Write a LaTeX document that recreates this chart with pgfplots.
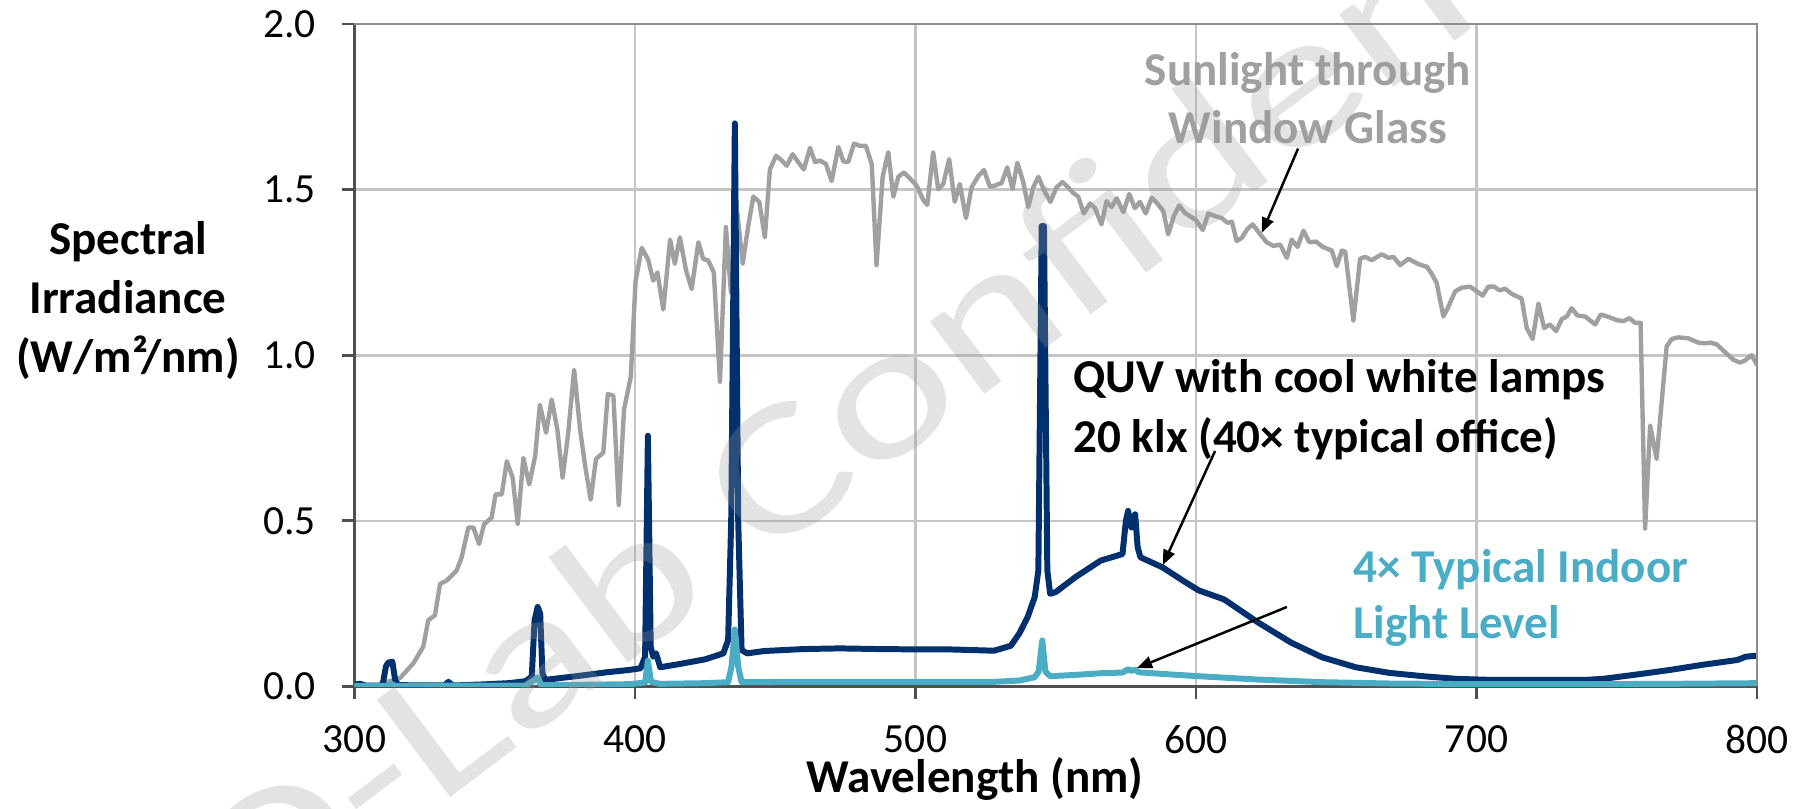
\documentclass[border=0pt]{standalone}
\usepackage{fontspec}
\setmainfont{Carlito}
\usepackage{pgfplots}
\pgfplotsset{compat=1.18}
\usetikzlibrary{arrows.meta}
\definecolor{sungray}{RGB}{160,160,160}
\definecolor{quvnavy}{RGB}{0,48,110}
\definecolor{indoor}{RGB}{75,172,198}
\definecolor{gridgray}{RGB}{197,197,197}
\definecolor{axisgray}{RGB}{80,80,80}
\definecolor{wmgray}{RGB}{153,153,153}

\pgfplotstableread{
x y
300 0.001
308 0.002
310 0.01
316.2 0.025
321 0.07
324.5 0.12
326.3 0.20
328.7 0.215
330.5 0.31
332.9 0.32
336.4 0.35
338.2 0.39
340.6 0.48
342.4 0.48
344.4 0.43
346.2 0.49
348.9 0.51
350.3 0.58
352.5 0.58
354.3 0.68
356.4 0.63
358.2 0.49
360.2 0.69
362.3 0.61
364.4 0.695
366.1 0.85
368.3 0.766
370.3 0.866
372.3 0.777
374.2 0.63
376.2 0.766
378.3 0.956
380.4 0.777
382.2 0.668
384.2 0.564
386.1 0.687
388.7 0.706
390.3 0.883
392.3 0.878
394.2 0.548
396.1 0.837
398.5 0.935
400.2 1.223
402.4 1.324
404.7 1.289
406.5 1.225
408 1.25
410.1 1.138
412.5 1.349
414.2 1.276
416 1.356
418.2 1.256
420.2 1.2
422.6 1.341
424.3 1.291
426.1 1.286
428.1 1.25
430.3 0.92
432.4 1.387
434.2 1.19
436.5 1.428
438.4 1.276
440.4 1.392
442.2 1.479
444.3 1.463
446.3 1.356
448.1 1.561
450.3 1.602
452.3 1.588
454.1 1.572
456.2 1.607
458.2 1.583
460.2 1.561
462.4 1.626
464.2 1.583
465.9 1.588
468.1 1.577
470.1 1.526
472.5 1.629
474.3 1.585
476.0 1.583
478.1 1.639
480.2 1.632
482.3 1.632
484.4 1.577
486.1 1.272
488.3 1.539
490.3 1.613
492.1 1.479
493.9 1.539
495.9 1.552
498 1.534
500.4 1.512
502.8 1.468
504.2 1.454
506.3 1.613
508.1 1.501
509.9 1.517
512.0 1.592
514.0 1.463
515.8 1.517
518 1.414
520 1.507
522.4 1.541
524.4 1.559
526.5 1.509
528.3 1.512
530.7 1.52
532.7 1.567
534.6 1.501
536.3 1.581
538.4 1.523
540.2 1.447
542 1.507
543.8 1.539
546.1 1.493
548.1 1.463
550.3 1.507
552.4 1.523
554.4 1.507
556.2 1.49
558 1.479
560 1.428
562.2 1.458
564 1.444
566.3 1.395
568.1 1.465
569.9 1.447
571.7 1.474
574.1 1.432
576.2 1.487
578.2 1.444
580 1.463
582.1 1.428
584.2 1.476
586.2 1.458
588.3 1.436
590.1 1.365
592.1 1.42
594 1.452
596 1.43
597.8 1.42
600 1.408
602.4 1.378
604.4 1.428
606.8 1.42
609.2 1.414
611.2 1.4
612.8 1.403
614.5 1.345
616.3 1.354
618.3 1.381
620.2 1.395
622.9 1.365
625.2 1.341
627.6 1.33
630 1.334
632.4 1.294
634.1 1.349
636.2 1.327
638.3 1.376
640.4 1.341
642.8 1.343
645.2 1.327
648.4 1.316
650.2 1.269
652 1.316
653.2 1.313
656.1 1.104
658.5 1.291
660.3 1.297
662.7 1.287
666.2 1.305
668.6 1.294
670.4 1.297
672.8 1.272
675.7 1.291
679.3 1.275
682.3 1.267
684.1 1.245
685.8 1.218
688.2 1.117
690 1.147
692.4 1.193
694.8 1.204
697.7 1.207
700.1 1.193
702.2 1.18
704.2 1.207
706.3 1.207
708.2 1.196
710.2 1.201
712.6 1.185
716.1 1.171
717.9 1.082
720.0 1.049
722.1 1.156
724.1 1.082
726.2 1.093
728.4 1.073
730.4 1.109
732.2 1.117
733.9 1.142
736 1.12
738.7 1.117
742.3 1.093
744.3 1.123
747.6 1.114
750 1.106
752.4 1.103
754.5 1.112
756.5 1.098
758.5 1.098
760.1 0.477
761.9 0.788
764.2 0.687
767.8 1.027
769.6 1.049
772 1.054
775.5 1.051
779.1 1.038
781.5 1.036
783.5 1.038
785.6 1.033
788 1.014
791.6 0.986
794 0.978
795.7 0.984
798.1 1.0
800 0.971
}\sunlight

\pgfplotstableread{
x y
300 0.006
302 0.008
304 0.003
310 0.003
311.2 0.06
312 0.072
313.5 0.075
314.5 0.02
315.5 0.004
332 0.003
333.5 0.014
335 0.003
345 0.006
355 0.010
361 0.016
363.2 0.03
364.2 0.20
365.3 0.24
366.2 0.22
367 0.04
368 0.020
370 0.022
380 0.032
390 0.043
398 0.050
402 0.055
403.6 0.09
404.6 0.757
405.6 0.12
406.5 0.09
407.5 0.10
409 0.058
416 0.068
425 0.082
431.5 0.100
433.2 0.14
434.3 0.50
435.6 1.70
436.8 0.50
438 0.11
440 0.100
446 0.107
460 0.113
473 0.115
487 0.113
500 0.112
512 0.112
520 0.110
528 0.108
534 0.123
537 0.16
540 0.21
542.5 0.27
543.8 0.35
545 1.39
545.8 1.39
547 0.35
548 0.28
550 0.285
557 0.33
566 0.38
573.8 0.40
575.0 0.50
575.8 0.53
577.0 0.48
578.3 0.52
579.2 0.42
580.2 0.39
588 0.36
596 0.316
601 0.29
610 0.263
622 0.194
634 0.132
645 0.088
657 0.058
669 0.041
681 0.031
693 0.023
705 0.020
720 0.020
739 0.020
745 0.023
757 0.036
769 0.050
781 0.066
793 0.080
796 0.090
800 0.093
}\quv

\pgfplotstableread{
x y
300 0.002
311.5 0.002
313 0.008
314.5 0.002
361 0.003
364.2 0.020
365.3 0.027
366.5 0.004
380 0.005
398 0.007
403.6 0.012
404.6 0.078
405.7 0.014
409 0.008
425 0.010
433.2 0.013
434.4 0.06
435.6 0.172
436.8 0.06
438 0.013
460 0.014
487 0.014
512 0.014
528 0.014
537 0.018
542.5 0.028
543.9 0.045
545.2 0.139
546.3 0.045
548 0.031
557 0.035
566 0.040
573.8 0.042
575.8 0.052
577 0.047
578.3 0.051
579.5 0.043
588 0.038
601 0.031
622 0.021
645 0.013
669 0.009
700 0.007
740 0.007
769 0.008
800 0.010
}\indoorlamp

\begin{document}
\begin{tikzpicture}
\begin{axis}[
  at={(0,0)}, anchor=south west,
  scale only axis, width=140.25mm, height=66.25mm,
  xmin=300, xmax=800, ymin=0, ymax=2,
  xtick={300,400,500,600,700,800},
  ytick={0,0.5,1,1.5,2},
  axis lines*=left,
  axis line style={draw=axisgray, line width=0.8pt},
  grid=major,
  major grid style={draw=gridgray, line width=0.75pt},
  tick align=outside,
  major tick length=1.25mm,
  tick style={draw=axisgray, line width=0.8pt},
  tick label style={font=\fontsize{11.8}{14}\selectfont},
  /pgf/number format/assume math mode=true,
  yticklabel style={/pgf/number format/.cd, fixed, fixed zerofill, precision=1},
  xticklabel style={/pgf/number format/.cd, fixed, precision=0},
  yticklabel shift=1.4mm,
  xticklabel shift=1.4mm,
  xlabel={\bfseries Wavelength (nm)},
  xlabel style={font=\fontsize{13.4}{16}\selectfont, at={(axis description cs:0.4424,0)}, anchor=base, yshift=-10.65mm},
  ylabel={\bfseries Spectral\\\bfseries Irradiance\\\bfseries (W/m²/nm)},
  ylabel style={font=\fontsize{13.4}{16.8}\selectfont, rotate=-90, align=center, at={(axis description cs:-0.1615,0.583)}, anchor=center},
]
\addplot[sungray, line width=1.25pt, line join=round] table[x=x,y=y] {\sunlight};
\addplot[quvnavy, line width=1.7pt, line join=round] table[x=x,y=y] {\quv};
\addplot[indoor, line width=1.7pt, line join=round] table[x=x,y=y] {\indoorlamp};

\node[font=\fontsize{13.4}{16}\selectfont\bfseries, text=sungray, anchor=base] at (axis cs:639.9,1.814) {Sunlight through};
\node[font=\fontsize{13.4}{16}\selectfont\bfseries, text=sungray, anchor=base] at (axis cs:639.9,1.639) {Window Glass};
\node[font=\fontsize{13.4}{16}\selectfont\bfseries, anchor=base west, inner sep=0pt] at (axis cs:556.1,0.887) {QUV with cool white lamps};
\node[font=\fontsize{13.4}{16}\selectfont\bfseries, anchor=base west, inner sep=0pt] at (axis cs:556.1,0.705) {20 klx (40× typical office)};
\node[font=\fontsize{13.4}{16}\selectfont\bfseries, text=indoor, anchor=base west, inner sep=0pt] at (axis cs:656.0,0.3127) {4× Typical Indoor};
\node[font=\fontsize{13.4}{16}\selectfont\bfseries, text=indoor, anchor=base west, inner sep=0pt] at (axis cs:656.0,0.144) {Light Level};

\draw[-{Triangle[length=1.5mm,width=1.2mm]}, line width=0.7pt] (axis cs:636.4,1.624) -- (axis cs:623.5,1.370);
\draw[-{Triangle[length=1.5mm,width=1.2mm]}, line width=0.7pt] (axis cs:606.8,0.711) -- (axis cs:588.2,0.367);
\draw[-{Triangle[length=1.5mm,width=1.2mm]}, line width=0.7pt] (axis cs:632.4,0.240) -- (axis cs:579.0,0.056);
\end{axis}
\draw[draw=black!45, line width=0.75pt] (0,66.25mm) -- (140.25mm,66.25mm) -- (140.25mm,0);
\begin{scope}[shift={(60.15mm,33.65mm)}, rotate=37, xscale=1.3]
\node[transform shape, text=wmgray, text opacity=0.28, font=\fontsize{54}{58}\selectfont] at (0,0) {Q-Lab Confidential};
\end{scope}
\pgfresetboundingbox
\path[use as bounding box] (-35.45mm,-12.25mm) rectangle (144.95mm,68.65mm);
\end{tikzpicture}
\end{document}
